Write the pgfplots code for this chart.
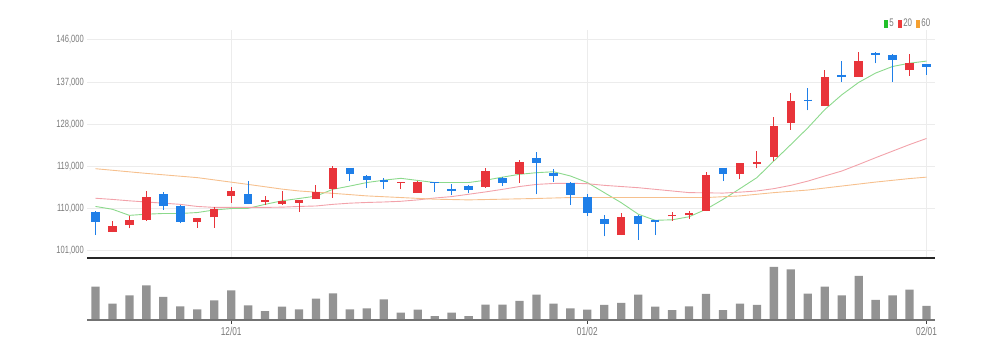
\documentclass[border=0pt]{standalone}
\usepackage{pgfplots}
\pgfplotsset{compat=1.18}
\usepackage{fontspec}
\setmainfont{Liberation Sans}[FakeStretch=0.72]
\definecolor{upred}{HTML}{E8343A}
\definecolor{dnblue}{HTML}{1F7FE8}
\definecolor{ma5}{HTML}{8CD98C}
\definecolor{ma20}{HTML}{F2A2AA}
\definecolor{ma60}{HTML}{F6C08E}
\definecolor{leg5}{HTML}{22C02A}
\definecolor{leg20}{HTML}{EE3B3B}
\definecolor{leg60}{HTML}{F5A030}
\definecolor{vol}{HTML}{939393}
\definecolor{lbl}{HTML}{7A7A7A}
\definecolor{gridc}{HTML}{ECECEC}
\newcommand{\lblfont}{\fontsize{10.5bp}{12bp}\selectfont}
\newcommand{\xlblfont}{\fontsize{11.5bp}{13bp}\selectfont}
% idx, open, high, low, close (thousands)
\newcommand{\candle}[5]{%
  \ifdim #5pt<#2pt \def\cc{dnblue}\else\def\cc{upred}\fi
  \edef\temp{\noexpand\addplot[\cc, line width=1bp, forget plot] coordinates {(#1,#4) (#1,#3)};
    \noexpand\addplot[\cc, line width=8.5bp, forget plot] coordinates {(#1,#2) (#1,#5)};}%
  \temp}
\begin{document}
\begin{tikzpicture}
\path[use as bounding box] (0,0) rectangle (991bp,359bp);
\begin{axis}[
  at={(87bp,101bp)}, anchor=south west,
  width=848bp, height=228bp, scale only axis,
  xmin=-0.5, xmax=49.5, ymin=99.507, ymax=148.13,
  clip=false,
  axis line style={draw=none},
  major tick length=0pt,
  xtick={8,29,49}, xticklabels={},
  xmajorgrids, ymajorgrids,
  grid style={gridc, line width=1bp},
  ytick={101,110,119,128,137,146},
  yticklabels={{101,000},{110,000},{119,000},{128,000},{137,000},{146,000}},
  yticklabel style={font=\lblfont, text=lbl, inner sep=0pt, xshift=-3bp},
  legend columns=-1,
  legend image code/.code={\fill (0bp,-3.5bp) rectangle (3bp,3.5bp);},
  legend style={at={(rel axis cs:0.997,1)}, anchor=south east, draw=none, fill=none,
    inner sep=0pt, font=\fontsize{11bp}{12bp}\selectfont, text=lbl,
    /tikz/every even column/.append style={column sep=2bp}},
]
\addlegendimage{leg5}\addlegendentry{5}
\addlegendimage{leg20}\addlegendentry{20}
\addlegendimage{leg60}\addlegendentry{60}
\addplot[ma5, line width=0.9bp, forget plot] coordinates {
(0,110.5)(1,109.9)(2,108.6)(3,108.85)(4,109.0)(5,109.0)(6,109.2)(7,109.75)(8,110.05)(9,110.1)
(10,110.95)(11,111.7)(12,112.2)(13,112.7)(14,114.15)(15,114.85)(16,115.6)(17,116.1)(18,116.5)(19,116.05)
(20,115.6)(21,115.6)(22,115.6)(23,116.1)(24,116.75)(25,117.35)(26,117.7)(27,117.9)(28,117.0)(29,115.6)
(30,113.45)(31,111.3)(32,108.85)(33,107.55)(34,107.65)(35,108.3)(36,109.9)(37,112.0)(38,114.3)(39,116.65)
(40,120.2)(41,123.7)(42,127.25)(43,131.15)(44,134.3)(45,136.95)(46,138.95)(47,140.35)(48,141.05)(49,141.5)};
\addplot[ma20, line width=0.9bp, forget plot] coordinates {
(0,112.25)(1,112.0)(2,111.7)(3,111.45)(4,111.2)(5,110.95)(6,110.5)(7,110.3)(8,110.3)(9,110.3)
(10,110.3)(11,110.35)(12,110.5)(13,110.6)(14,110.95)(15,111.2)(16,111.35)(17,111.45)(18,111.6)(19,111.9)
(20,112.3)(21,112.6)(22,113.1)(23,113.6)(24,114.15)(25,114.75)(26,115.2)(27,115.4)(28,115.45)(29,115.35)
(30,115.0)(31,114.75)(32,114.5)(33,114.15)(34,113.8)(35,113.45)(36,113.4)(37,113.35)(38,113.55)(39,113.8)
(40,114.3)(41,115.0)(42,115.9)(43,117.0)(44,118.05)(45,119.45)(46,120.9)(47,122.3)(48,123.7)(49,125.0)};
\addplot[ma60, line width=0.9bp, forget plot] coordinates {
(0,118.55)(3,117.55)(6,116.65)(9,115.2)(11,114.2)(12,113.8)(14,113.3)(16,112.75)(18,112.4)(20,112.05)
(22,111.9)(24,112.05)(26,112.2)(28,112.4)(32,112.4)(36,112.4)(38,112.75)(40,113.45)(42,114.0)(44,114.85)
(46,115.7)(48,116.45)(49,116.75)};
\candle{0}{109.3}{109.5}{104.4}{107.2}
\candle{1}{105.1}{107.4}{105.0}{106.4}
\candle{2}{106.5}{108.5}{105.8}{107.6}
\candle{3}{107.6}{113.8}{107.5}{112.6}
\candle{4}{113.1}{113.6}{109.8}{110.6}
\candle{5}{110.5}{110.8}{106.9}{107.2}
\candle{6}{107.2}{108.1}{106.0}{108.0}
\candle{7}{108.15}{110.4}{106.0}{110.05}
\candle{8}{112.7}{114.6}{111.3}{113.9}
\candle{9}{113.1}{115.9}{111.0}{111.1}
\candle{10}{111.4}{112.7}{110.8}{111.8}
\candle{11}{111.0}{113.9}{110.9}{111.7}
\candle{12}{111.3}{111.9}{109.3}{111.8}
\candle{13}{112.0}{115.0}{112.0}{113.5}
\candle{14}{114.3}{119.1}{112.4}{118.8}
\candle{15}{118.8}{118.8}{115.9}{117.5}
\candle{16}{117.0}{117.3}{114.4}{116.1}
\candle{17}{116.1}{116.6}{114.2}{115.7}
\candle{18}{115.5}{115.8}{114.2}{115.8}
\candle{19}{113.45}{116.0}{113.4}{115.7}
\candle{20}{115.7}{115.8}{113.6}{115.4}
\candle{21}{114.3}{115.2}{112.9}{113.8}
\candle{22}{114.9}{115.0}{113.3}{114.0}
\candle{23}{114.6}{118.8}{114.5}{118.0}
\candle{24}{116.5}{116.8}{114.9}{115.6}
\candle{25}{117.5}{120.4}{115.6}{120.0}
\candle{26}{120.8}{122.1}{113.1}{119.7}
\candle{27}{117.7}{118.5}{115.8}{117.0}
\candle{28}{115.6}{115.7}{110.8}{112.9}
\candle{29}{112.5}{113.1}{108.5}{109.1}
\candle{30}{107.8}{108.6}{104.1}{106.7}
\candle{31}{104.45}{109.1}{104.4}{108.35}
\candle{32}{108.5}{108.6}{103.4}{106.7}
\candle{33}{107.6}{107.7}{104.4}{107.1}
\candle{34}{108.4}{109.3}{107.4}{108.6}
\candle{35}{108.6}{109.5}{107.8}{109.1}
\candle{36}{109.55}{117.9}{109.5}{117.2}
\candle{37}{118.8}{118.8}{115.9}{117.4}
\candle{38}{117.5}{119.8}{116.3}{119.7}
\candle{39}{119.6}{122.3}{118.6}{119.9}
\candle{40}{121.0}{129.6}{120.2}{127.7}
\candle{41}{128.3}{134.7}{126.9}{133.0}
\candle{42}{133.3}{135.7}{131.0}{132.9}
\candle{43}{132.0}{139.5}{131.9}{138.2}
\candle{44}{138.6}{141.6}{137.0}{138.1}
\candle{45}{138.2}{143.4}{138.1}{141.6}
\candle{46}{143.3}{143.4}{141.0}{142.9}
\candle{47}{142.8}{143.0}{137.1}{141.8}
\candle{48}{139.5}{143.0}{138.4}{141.0}
\candle{49}{140.8}{140.9}{138.6}{140.3}
\draw[black!85, line width=1.6bp] (rel axis cs:0,0) -- (rel axis cs:1,0);
\end{axis}
\begin{axis}[
  at={(87bp,39bp)}, anchor=south west,
  width=848bp, height=61bp, scale only axis,
  xmin=-0.5, xmax=49.5, ymin=0, ymax=183,
  clip=false,
  axis line style={draw=none},
  ytick=\empty,
  xtick={8,29,49}, xticklabels={12/01,01/02,02/01},
  xtick pos=bottom, tick align=outside, major tick length=4bp,
  tick style={black!75, line width=1bp},
  xticklabel style={font=\xlblfont, text=lbl, inner sep=0pt, yshift=-3bp},
]
\addplot[ybar, bar width=8.3bp, fill=vol, draw=none] coordinates {
(0,100)(1,49)(2,74)(3,104)(4,69)(5,41)(6,32)(7,59)(8,89)(9,44)
(10,27)(11,40)(12,32)(13,64)(14,80)(15,32)(16,35)(17,62)(18,22)(19,31)
(20,12)(21,22)(22,12)(23,46)(24,46)(25,57)(26,76)(27,49)(28,35)(29,31)
(30,45)(31,51)(32,76)(33,40)(34,30)(35,41)(36,78)(37,30)(38,49)(39,45)
(40,159)(41,152)(42,79)(43,100)(44,74)(45,132)(46,60)(47,74)(48,91)(49,42)};
\draw[black!55, line width=1.4bp] (rel axis cs:0,0) -- (rel axis cs:1,0);
\end{axis}
\end{tikzpicture}
\end{document}
